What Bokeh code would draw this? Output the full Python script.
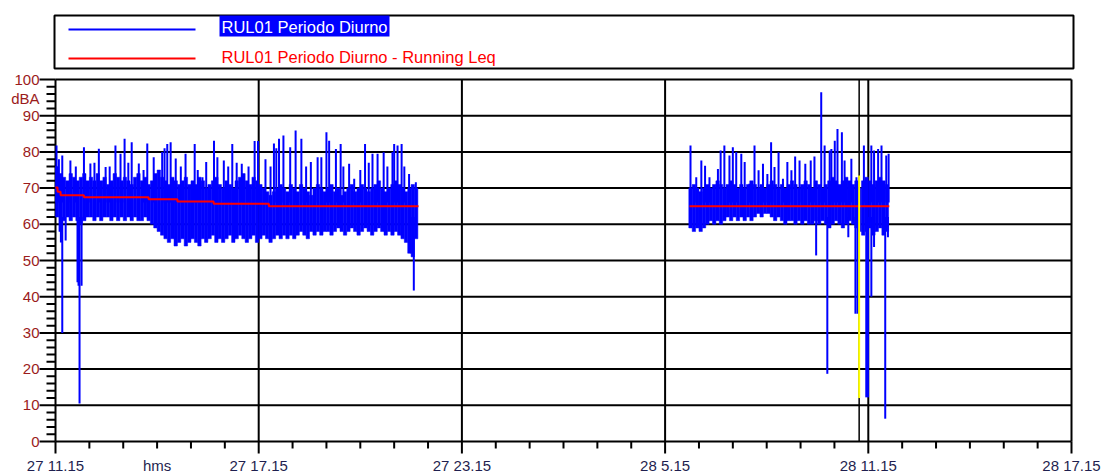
from bokeh.plotting import figure
from bokeh.models import Range1d, ColumnDataSource
from bokeh.embed import file_html
from bokeh.resources import INLINE
from bokeh.core.properties import value

# ---------------- data (time in hours after 27 11:15, level in dBA) ----------------
tick_hours = [0, 6, 12, 18, 24, 30]
tick_labels = ["27 11.15", "27 17.15", "27 23.15", "28 5.15", "28 11.15", "28 17.15"]
minor_per_major_x = 6
y_ticks = [0, 10, 20, 30, 40, 50, 60, 70, 80, 90, 100]
y_tick_labels = ["0", "10", "20", "30", "40", "50", "60", "70", "80", "90", "100"]
minor_per_major_y = 5
x_axis_name = "hms"
x_axis_name_at = 3.0
y_axis_name = "dBA"
series_names = ["RUL01 Periodo Diurno", "RUL01 Periodo Diurno - Running Leq"]

bin_width = 0.1
seg1_start = 0.0
seg1_hi = [76, 74, 73, 72, 74, 73, 72, 73, 74, 72,
           73, 72, 74, 72, 73, 71, 72, 74, 73, 72,
           73, 72, 71, 73, 74, 72, 73, 71, 72, 74,
           75, 73, 72, 71, 73, 72, 71, 72, 73, 71,
           72, 71, 73, 72, 70, 71, 72, 73, 71, 70,
           72, 71, 70, 72, 73, 74, 72, 71, 73, 72,
           71, 70, 69, 68, 69, 70, 71, 70, 69, 71,
           70, 69, 71, 70, 69, 68, 70, 71, 70, 69,
           70, 71, 69, 70, 68, 69, 70, 71, 69, 70,
           71, 70, 69, 70, 71, 72, 70, 69, 70, 71,
           72, 71, 70, 69, 70, 71, 70]
seg1_lo = [62, 58, 61, 62, 61, 62, 61, 60, 61, 62,
           62, 61, 62, 61, 62, 62, 61, 62, 61, 62,
           61, 62, 61, 62, 61, 61, 62, 61, 60, 59,
           58, 57, 56, 55, 56, 54, 55, 56, 54, 55,
           56, 55, 54, 56, 55, 56, 57, 55, 56, 55,
           56, 57, 55, 56, 57, 56, 55, 56, 57, 55,
           56, 57, 56, 55, 56, 57, 56, 57, 56, 57,
           56, 57, 58, 57, 56, 58, 57, 58, 57, 58,
           58, 57, 58, 59, 58, 57, 58, 59, 58, 57,
           58, 59, 58, 57, 58, 59, 58, 57, 58, 57,
           58, 57, 56, 55, 52, 51, 56]
seg2_start = 18.7
seg2_hi = [70, 71, 70, 69, 70, 71, 70, 71, 72, 71,
           70, 71, 72, 71, 70, 71, 70, 71, 72, 71,
           70, 71, 70, 71, 72, 71, 70, 71, 70, 71,
           72, 71, 70, 71, 72, 71, 70, 72, 71, 70,
           71, 72, 73, 72, 71, 72, 73, 72, 71, 72,
           70, 72, 73, 72, 71, 72, 73, 72, 71]
seg2_lo = [59, 58, 59, 58, 59, 60, 61, 60, 61, 60,
           61, 62, 61, 62, 61, 62, 61, 62, 61, 62,
           63, 62, 63, 63, 62, 61, 62, 61, 60, 61,
           61, 60, 61, 60, 61, 60, 60, 61, 60, 61,
           60, 59, 60, 61, 60, 59, 60, 61, 60, 59,
           58, 57, 58, 59, 57, 58, 59, 57, 58]

peak_t = [0.03, 0.20, 0.44, 0.84, 1.03, 1.28, 1.48, 1.77, 1.92, 2.04,
          2.25, 2.46, 2.71, 2.90, 3.15, 3.22, 3.30, 3.40, 3.55, 3.84,
          4.11, 4.34, 4.45, 4.68, 4.78, 4.97, 5.22, 5.50, 5.70, 5.88,
          5.98, 6.45, 6.52, 6.60, 6.73, 6.93, 7.09, 7.26, 7.54, 7.74,
          7.85, 8.00, 8.08, 8.28, 8.42, 8.67, 8.82, 9.14, 9.36, 9.51,
          9.69, 9.95, 10.00, 10.10, 10.22, 10.44, 10.64,
          0.10, 0.60, 1.15, 1.60, 2.15, 2.60, 3.70, 4.20, 5.10, 5.35,
          6.20, 6.35, 7.40, 8.50, 9.00, 9.25, 9.80, 10.30,
          18.75, 18.92, 19.07, 19.18, 19.31, 19.56, 19.64, 19.75, 19.90, 20.00,
          20.10, 20.25, 20.35, 20.49, 20.64, 20.76, 20.89, 21.02, 21.13, 21.23,
          21.35, 21.48, 21.61, 21.73, 21.84, 21.97, 22.14, 22.30, 22.41, 22.61,
          22.71, 22.86, 22.91, 23.01, 23.09, 23.22, 23.30, 23.50, 23.65, 23.87,
          24.09, 24.17, 24.29, 24.39, 24.53, 24.60]
peak_v = [81.8, 79, 77.6, 81.3, 76.8, 80.9, 75.8, 81.8, 79.5, 83.6,
          82.7, 76.8, 82.3, 78.5, 80, 81, 82.2, 82.7, 78.2, 79.5,
          82.2, 73, 77.2, 83.1, 78.5, 77.6, 82.2, 76.7, 76, 83,
          83, 82.3, 81, 83.6, 84.5, 81.3, 85.9, 83.6, 77.2, 78.5,
          78.5, 85.4, 83.1, 80.8, 82.2, 76.7, 72.6, 82.2, 79.5, 79.5,
          79.9, 80, 82.2, 81.8, 82.2, 73.9, 71.6,
          78, 76, 77, 76, 77, 75, 76, 75, 76, 77,
          78, 76, 76, 76, 75, 77, 76, 76,
          81.8, 73, 77.6, 76.2, 73, 75.3, 80.4, 81.8, 79, 81.3,
          80, 79.5, 77.2, 71.2, 81.8, 74.9, 76.7, 73.9, 82.7, 75.8,
          79.9, 72.6, 77.2, 74.9, 78.7, 77.6, 76.7, 77.6, 78.7, 96.5,
          81.8, 80.4, 80.8, 83.1, 86.3, 85.4, 77.6, 78.1, 73, 81.8,
          81.8, 80.4, 80.8, 81.8, 79, 79.5]

dip_t = [0.16, 0.20, 0.30, 0.65, 0.68, 0.71, 0.77, 10.49, 10.58,
         22.46, 22.79, 23.41, 23.62, 23.68, 23.94, 23.99, 24.09, 24.17, 24.50, 24.58]
dip_v = [55, 30, 55.5, 44, 43, 10.5, 43, 52, 41.7,
         51.4, 18.7, 56.4, 35.3, 35.3, 12.2, 12.2, 40, 53.7, 6.3, 56.4]

leq1_t = [0.0, 0.06, 0.15, 0.84, 2.75, 3.6, 4.67, 6.3, 10.72]
leq1_v = [70.2, 69.0, 68.0, 67.5, 66.9, 66.3, 65.7, 65.0, 65.0]
leq2_t = [18.72, 24.62]
leq2_v = [65.0, 65.0]

cursor_t = 23.73
marker_lo, marker_hi = 12.0, 73.5

# ---------------- styling / geometry ----------------
BLUE = "#0000ff"
RED = "#ff0000"
YLAB = "#9b1b1b"
XLAB = "#1f1f4f"
FONT = "Liberation Sans"
W, H = 1103, 475
ORIGIN_X = 55        # canvas x of the time origin
AXIS_Y = 441         # canvas y of 0 dBA
PX_PER_H = 1016 / 30.0
PX_PER_DB = 362 / 100.0


def X(px):  # canvas pixel -> hours
    return (px - ORIGIN_X) / PX_PER_H


def Y(py):  # canvas pixel -> dB
    return (AXIS_Y - py) / PX_PER_DB


p = figure(width=W, height=H,
           x_range=Range1d(X(0), X(W)), y_range=Range1d(Y(H), Y(0)),
           output_backend="svg", toolbar_location=None,
           min_border_left=0, min_border_right=0, min_border_top=0,
           min_border_bottom=0, x_axis_location=None, y_axis_location=None)
p.background_fill_color = "white"
p.border_fill_color = "white"
p.outline_line_color = None
p.grid.visible = False

t0, t1 = tick_hours[0], tick_hours[-1]
v0, v1 = y_ticks[0], y_ticks[-1]

# grid (from tick values, limited to the data area)
gy = y_ticks[1:]
p.segment(x0=[t0] * len(gy), y0=gy, x1=[t1] * len(gy), y1=gy,
          line_color="black", line_width=2)
gx = tick_hours[1:]
p.segment(x0=gx, y0=[v0] * len(gx), x1=gx, y1=[v1] * len(gx),
          line_color="black", line_width=2)

# dB axis: line, ticks, labels
p.segment(x0=[t0], y0=[v0], x1=[t0], y1=[v1], line_color="black", line_width=2)
p.segment(x0=[X(ORIGIN_X - 16)] * len(y_ticks), y0=y_ticks, x1=[t0] * len(y_ticks),
          y1=y_ticks, line_color="black", line_width=2)
ystep = (y_ticks[1] - y_ticks[0]) / minor_per_major_y
minor_y = [v + k * ystep for v in y_ticks[:-1] for k in range(1, minor_per_major_y)]
p.segment(x0=[X(ORIGIN_X - 9)] * len(minor_y), y0=minor_y, x1=[t0] * len(minor_y),
          y1=minor_y, line_color="black", line_width=2)
p.text(x=[X(ORIGIN_X - 16)] * len(y_ticks), y=y_ticks, text=y_tick_labels,
       text_color=YLAB, text_font=value(FONT), text_font_size=value("15px"),
       text_align="right", text_baseline="middle")
p.text(x=[X(ORIGIN_X - 16)], y=[Y(97.5)], text=[y_axis_name], text_color=YLAB,
       text_font=value(FONT), text_font_size=value("15px"), text_align="right",
       text_baseline="middle")

# time axis: line, ticks, labels
p.segment(x0=[t0], y0=[v0], x1=[t1], y1=[v0], line_color="black", line_width=2)
p.segment(x0=tick_hours, y0=[v0] * len(tick_hours), x1=tick_hours,
          y1=[Y(AXIS_Y + 12)] * len(tick_hours), line_color="black", line_width=2)
xstep = (tick_hours[1] - tick_hours[0]) / minor_per_major_x
minor_x = [h + k * xstep for h in tick_hours[:-1] for k in range(1, minor_per_major_x)]
p.segment(x0=minor_x, y0=[v0] * len(minor_x), x1=minor_x,
          y1=[Y(AXIS_Y + 7)] * len(minor_x), line_color="black", line_width=2)
p.text(x=tick_hours, y=[Y(465)] * len(tick_hours), text=tick_labels, text_color=XLAB,
       text_font=value(FONT), text_font_size=value("15px"), text_align="center",
       text_baseline="middle")
p.text(x=[x_axis_name_at], y=[Y(465)], text=[x_axis_name], text_color=XLAB,
       text_font=value(FONT), text_font_size=value("15px"), text_align="center",
       text_baseline="middle")

# measured level envelope (binned)
def bins(start, hi, lo):
    xs = [start + (i + 0.5) * bin_width for i in range(len(hi))]
    return ColumnDataSource(dict(x=xs, top=hi, bottom=lo))


for src in (bins(seg1_start, seg1_hi, seg1_lo), bins(seg2_start, seg2_hi, seg2_lo)):
    p.vbar(x="x", width=bin_width, top="top", bottom="bottom", source=src,
           fill_color=BLUE, line_color=BLUE, line_width=0.5)

p.segment(x0=peak_t, y0=[66] * len(peak_t), x1=peak_t, y1=peak_v,
          line_color=BLUE, line_width=2)
p.segment(x0=dip_t, y0=[62] * len(dip_t), x1=dip_t, y1=dip_v,
          line_color=BLUE, line_width=2)

# running Leq
p.step(x=leq1_t, y=leq1_v, mode="after", line_color=RED, line_width=2)
p.line(x=leq2_t, y=leq2_v, line_color=RED, line_width=2)

# cursor and marker
p.segment(x0=[cursor_t], y0=[v0], x1=[cursor_t], y1=[v1],
          line_color="black", line_width=1.5)
p.segment(x0=[cursor_t], y0=[marker_lo], x1=[cursor_t], y1=[marker_hi],
          line_color="#ffff00", line_width=2)

# legend box (above the data area)
p.quad(left=[X(54)], right=[X(1073)], top=[Y(15)], bottom=[Y(68)], fill_color=None,
       line_color="black", line_width=2)
p.quad(left=[X(219)], right=[X(389)], top=[Y(15)], bottom=[Y(36)], fill_color=BLUE,
       line_color=None)
p.line(x=[X(68), X(195)], y=[Y(29), Y(29)], line_color=BLUE, line_width=2)
p.line(x=[X(68), X(195)], y=[Y(58), Y(58)], line_color=RED, line_width=2)
p.text(x=[X(221)], y=[Y(26)], text=[series_names[0]], text_color="white",
       text_font=value(FONT), text_font_size=value("16.5px"), text_baseline="middle")
p.text(x=[X(221)], y=[Y(56)], text=[series_names[1]], text_color=RED,
       text_font=value(FONT), text_font_size=value("16.5px"), text_baseline="middle")

open("out.html", "w").write(file_html(p, INLINE))
